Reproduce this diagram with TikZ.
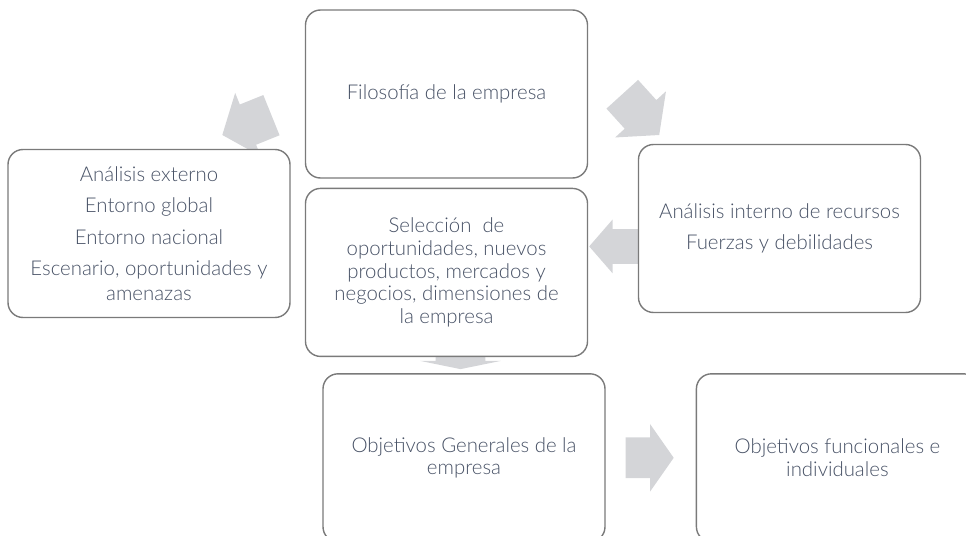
\documentclass[tikz,border=0pt]{standalone}
\usepackage{fontspec}
\IfFontExistsTF{Lato Light}{\setmainfont{Lato Light}}{\setmainfont{Lato}}
\usetikzlibrary{positioning,shapes.arrows,calc}
\pgfdeclarelayer{background}
\pgfsetlayers{background,main}
\definecolor{texto}{RGB}{72,82,102}
\definecolor{borde}{RGB}{122,122,122}
\definecolor{gris}{RGB}{212,213,216}

\begin{document}
\begin{tikzpicture}

\tikzstyle{caja}=[draw=borde,fill=white,line width=0.8pt,rounded corners=0.3cm,minimum width=5.64cm,minimum height=3.36cm,align=center,text=texto,font=\fontsize{11.6}{13}\selectfont,inner sep=0pt]
\tikzstyle{flecha}=[single arrow,fill=gris,draw=none,inner xsep=0pt,outer sep=0pt,anchor=tip]

\useasboundingbox (0,0) rectangle (19.32,10.7);
\clip (0,0) rectangle (19.32,10.7);

% Filosofia

\node (filo) [caja] at (8.93,8.82) {Filosofía de la empresa};

% Seleccion

\node (sel) [caja,below=0.18cm of filo] {Selección\ \ de\\oportunidades, nuevos\\productos, mercados y\\negocios, dimensiones de\\la empresa};

% Analisis externo e interno

\node (ext) [caja] at (2.98,6.03) {Análisis externo\\[5pt]Entorno global\\[5pt]Entorno nacional\\[5pt]Escenario, oportunidades y\\[1pt]amenazas};

\node (int) [caja] at (15.59,6.13) {Análisis interno de recursos\\[5pt]Fuerzas y debilidades};

% Objetivos

\node (gen) [caja,below=0.32cm of sel,xshift=0.35cm] {Objetivos Generales de la\\empresa};

\node (fun) [caja,right=1.8cm of gen] {Objetivos funcionales e\\individuales};

% Flechas

\begin{pgfonlayer}{background}
\node (f1) [flecha,rotate=202,minimum height=1.06cm,inner ysep=0.427cm,single arrow head extend=0.25cm,single arrow tip angle=102] at ([xshift=-1.65cm,yshift=-0.82cm]filo.west) {};
\node (f2) [flecha,rotate=-47.8,minimum height=1.1cm,inner ysep=0.42cm,single arrow head extend=0.26cm,single arrow tip angle=102] at ([xshift=1.42cm,yshift=-0.82cm]filo.east) {};
\node (f3) [flecha,rotate=180,minimum height=1.0cm,inner ysep=0.34cm,single arrow head extend=0.19cm,single arrow tip angle=98] at ([xshift=0.02cm,yshift=0.52cm]sel.east) {};
\node (f4) [flecha,rotate=-90,minimum height=0.44cm,inner ysep=0.49cm,single arrow head extend=0.31cm,single arrow tip angle=157] at ([xshift=-0.07cm,yshift=0.08cm]gen.north) {};
\node (f5) [flecha,minimum height=0.96cm,inner ysep=0.4cm,single arrow head extend=0.27cm,single arrow tip angle=110] at ([xshift=-0.44cm]fun.west) {};
\end{pgfonlayer}

\end{tikzpicture}
\end{document}
